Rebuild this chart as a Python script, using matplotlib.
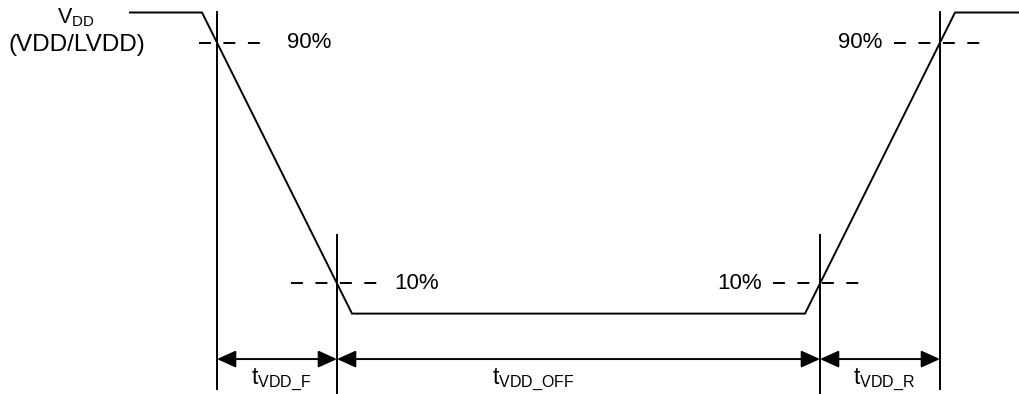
import numpy as np
import matplotlib
matplotlib.use("Agg")
import matplotlib.pyplot as plt

plt.rcParams['font.family'] = ['Liberation Sans', 'DejaVu Sans']
plt.rcParams['mathtext.fontset'] = 'custom'
plt.rcParams['mathtext.rm'] = 'Liberation Sans'
plt.rcParams['mathtext.it'] = 'Liberation Sans'
plt.rcParams['lines.scale_dashes'] = False

# supply waveform: time (px-like units) vs fraction of VDD
time = [130, 202, 352, 805, 955, 1018]
level = [1.0, 1.0, 0.0, 0.0, 1.0, 1.0]
thresholds = [0.9, 0.1]
labels_pct = ['90%', '10%']
span_labels = [r'$\mathrm{t}_{\mathrm{VDD\_F}}$', r'$\mathrm{t}_{\mathrm{VDD\_OFF}}$',
               r'$\mathrm{t}_{\mathrm{VDD\_R}}$']


def crossing(t0, t1, v0, v1, v):
    return t0 + (v - v0) / (v1 - v0) * (t1 - t0)


# threshold crossings on falling and rising edges
f90 = crossing(time[1], time[2], level[1], level[2], thresholds[0])
f10 = crossing(time[1], time[2], level[1], level[2], thresholds[1])
r10 = crossing(time[3], time[4], level[3], level[4], thresholds[1])
r90 = crossing(time[3], time[4], level[3], level[4], thresholds[0])

fig = plt.figure(figsize=(10.2, 3.94), dpi=100)
ax = fig.add_axes([0, 0, 1, 1])
ax.set_xlim(0, 1020)
ax.set_ylim(-0.267, 1.0415)
ax.axis('off')

lw = 1.4
ax.plot(time, level, color='black', lw=lw, solid_joinstyle='miter')

# vertical markers
ax.plot([f90, f90], [1.0, -0.251], color='black', lw=lw)
ax.plot([r90, r90], [1.0, -0.251], color='black', lw=lw)
ax.plot([f10, f10], [0.261, -0.3], color='black', lw=lw)
ax.plot([r10, r10], [0.261, -0.3], color='black', lw=lw)

# dashed threshold lines
dash = dict(color='black', lw=lw, dashes=(8.6, 9.0))
ax.plot([f90 - 18, f90 + 43], [thresholds[0]] * 2, **dash)
ax.plot([f10 - 46, f10 + 40], [thresholds[1]] * 2, **dash)
ax.plot([r10 - 47, r10 + 40], [thresholds[1]] * 2, **dash)
ax.plot([r90 - 46, r90 + 40], [thresholds[0]] * 2, **dash)

fs = 16
ax.text(287, thresholds[0], labels_pct[0], fontsize=fs, va='center', ha='left')
ax.text(394, thresholds[1], labels_pct[1], fontsize=fs, va='center', ha='left')
ax.text(762, thresholds[1], labels_pct[1], fontsize=fs, va='center', ha='right')
ax.text(882, thresholds[0], labels_pct[0], fontsize=fs, va='center', ha='right')

ax.text(76, 0.982, r'$\mathrm{V}_{\mathrm{DD}}$', fontsize=15.5, ha='center', va='center')
ax.text(77, 0.893, '(VDD/LVDD)', fontsize=17.5, ha='center', va='center')

# span arrows
arr_y = -0.151
edges = [f90, f10, r10, r90]
for a, b in zip(edges[:-1], edges[1:]):
    ax.annotate('', xy=(a, arr_y), xytext=(b, arr_y),
                arrowprops=dict(arrowstyle='<|-|>,head_length=1.15,head_width=0.52',
                                mutation_scale=10, color='black', lw=lw,
                                shrinkA=0, shrinkB=0))

lab_x = [251, 492, 853]
for x, s in zip(lab_x, span_labels):
    ax.text(x, -0.235, s, fontsize=16.5, ha='left', va='baseline')

fig.savefig('out.png', dpi=100)
